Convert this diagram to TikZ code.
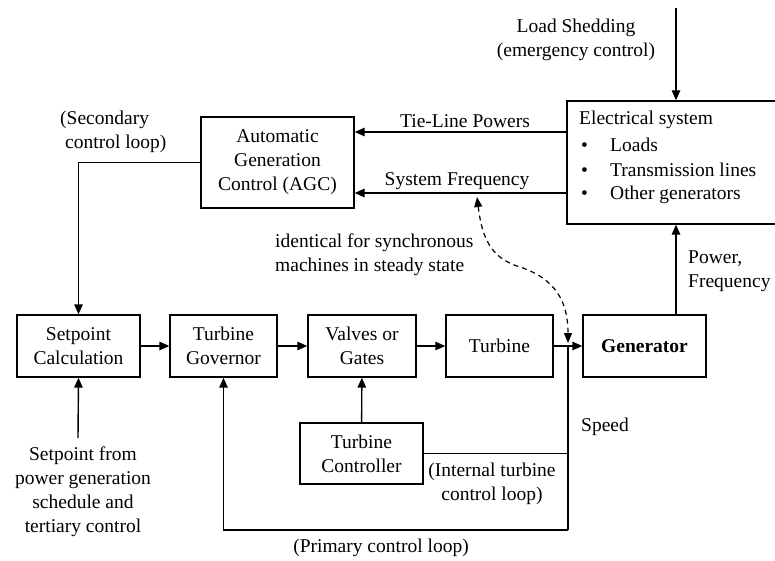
\documentclass[tikz,border=0pt]{standalone}
\usepackage{fontspec}
\setmainfont{Liberation Serif}
\newfontfamily\diagfont{Liberation Serif}
\usetikzlibrary{arrows.meta}

\begin{document}
\begin{tikzpicture}[x=1pt,y=-1pt,
  txt/.style={font=\diagfont\fontsize{19.5}{24}\selectfont, inner sep=1pt},
  blk/.style={txt, draw, line width=1.4pt, minimum height=62pt, align=center, inner sep=0pt},
  arr/.style={line width=1.4pt, -{Triangle[length=10pt,width=8.5pt]}},
  ln/.style={line width=1.4pt}]
\useasboundingbox (0,0) rectangle (775,561);

% main chain of blocks
\node[blk, minimum width=123pt] (setp) at (78.5,346) {Setpoint\\Calculation};
\node[blk, minimum width=107pt] (gov)  at (223.5,346) {Turbine\\Governor};
\node[blk, minimum width=108pt] (valv) at (362,346) {Valves or\\Gates};
\node[blk, minimum width=107pt] (turb) at (499.5,346) {Turbine};
\node[blk, minimum width=123pt, font=\diagfont\fontsize{19.5}{24}\selectfont\bfseries] (gen) at (644.5,346) {Generator};
\node[blk, minimum width=123pt, minimum height=61pt] (ctrl) at (361.5,453.5) {Turbine\\Controller};
\node[blk, minimum width=153pt, minimum height=91pt] (agc) at (277.5,162.5) {Automatic\\Generation\\Control (AGC)};
\node[blk, minimum width=211pt, minimum height=123pt] (elec) at (672.5,162.5) {};

% contents of the electrical system box
\node[txt, anchor=west] at (578,120) {Electrical system};
\foreach \y/\t in {145/Loads, 170/Transmission lines, 195/Other generators}{
  \node[txt, anchor=west] at (580,\y) {\makebox[29pt][l]{\textbullet}\t};
}

% helper coordinates
\coordinate (j)  at (568,346);
\coordinate (ls) at (676,8);
\coordinate (tl) at (567,132);
\coordinate (sf) at (567,193);
\coordinate (bot) at (568,530);
\coordinate (dtop) at (477,197);
\coordinate (dmid) at (520,267);
\coordinate (dend) at (568,343);

% forward path
\draw[arr] (setp) -- (gov);
\draw[arr] (gov) -- (valv);
\draw[arr] (valv) -- (turb);
\draw[arr] (turb) -- (gen);
\draw[arr] (ctrl) -- (valv);

% electrical system links
\draw[arr] (ls) -- (ls |- elec.north);
\draw[arr] (gen.north -| ls) -- (elec.south -| ls);
\draw[arr] (tl) -- (tl -| agc.east);
\draw[arr] (sf) -- (sf -| agc.east);

% secondary loop
\draw[arr] (agc.west) -| (setp.north);

% primary and internal loops
\draw[ln] (j) -- (bot);
\draw[arr] (bot) -| (gov.south);
\draw[ln] (ctrl.east) -- (ctrl.east -| j);

% setpoint input
\node[txt, align=center] (sched) at (83,492) {Setpoint from\\power generation\\schedule and\\tertiary control};
\draw[arr] (78,438) -- (setp.south);

% dashed relation between frequency and speed
\draw[line width=1.2pt, dash pattern=on 5pt off 4pt, {Triangle[length=10pt,width=8pt]}-{Triangle[length=10pt,width=8pt]}]
  (dtop) .. controls (482,237) and (490,258) .. (dmid)
  .. controls (556,279) and (568,302) .. (dend);

% labels
\node[txt, align=center] at (576,39.5) {Load Shedding\\(emergency control)};
\node[txt] at (465,121) {Tie-Line Powers};
\node[txt] at (457,181) {System Frequency};
\node[txt, align=left, anchor=west] at (59,131.5) {(Secondary\\\hspace*{5pt}control loop)};
\node[txt, align=left, anchor=west] at (274,255) {identical for synchronous\\machines in steady state};
\node[txt, align=left, anchor=west] at (687,271) {Power,\\Frequency};
\node[txt, anchor=west] at (580,427) {Speed};
\node[txt, align=center] at (492,483.5) {(Internal turbine\\control loop)};
\node[txt] at (381,548) {(Primary control loop)};
\end{tikzpicture}
\end{document}
